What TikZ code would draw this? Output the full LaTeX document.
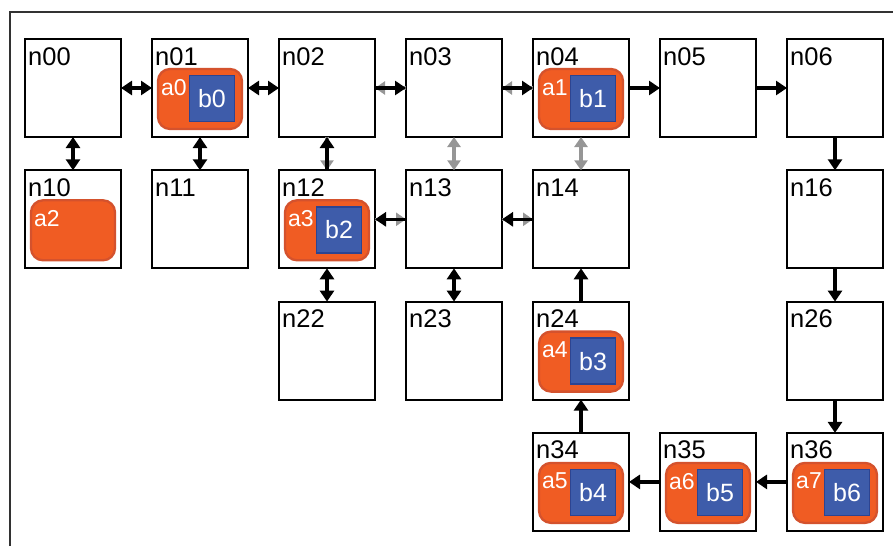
\documentclass[tikz,border=0pt]{standalone}
\usepackage{fontspec}
\setmainfont{Liberation Sans}
\usetikzlibrary{arrows.meta}
\definecolor{org}{RGB}{240,92,35}
\definecolor{orgd}{RGB}{212,82,45}
\definecolor{blu}{RGB}{62,92,170}
\definecolor{blud}{RGB}{45,68,145}
\definecolor{gry}{RGB}{150,150,150}
\definecolor{frm}{RGB}{50,50,50}
\newcommand\mkcell[4]{%
  \node[cell] (#1) at (#2,#3) {};
  \node[clabel] (#1l) at ([shift={(3,8)}]#1.north west) {#4};
}
\newcommand\mkagent[3]{%
  \node[agent] (#2) at ([shift={(48,60)}]#1.north west) {};
  \node[alab] (#2l) at ([shift={(9,40)}]#1.north west) {#3};
}
\newcommand\mkbox[3]{%
  \node[bbox] (#2) at ([shift={(60,59.5)}]#1.north west) {#3};
}
\begin{document}
\begin{tikzpicture}[x=1pt,y=-1pt,
  cell/.style={draw=black,line width=1.8pt,fill=white,minimum width=96pt,minimum height=98pt,inner sep=0pt,outer sep=0pt},
  clabel/.style={anchor=north west,inner sep=0pt,font=\fontsize{25.5}{25.5}\selectfont},
  agent/.style={fill=org,draw=orgd,line width=2.3pt,rounded corners=12pt,minimum width=84pt,minimum height=60pt,inner sep=0pt},
  alab/.style={anchor=north west,inner sep=0pt,text=white,font=\fontsize{23}{23}\selectfont},
  bbox/.style={fill=blu,draw=blud,line width=1.5pt,minimum width=45pt,minimum height=46pt,inner sep=0pt,text=white,font=\fontsize{25}{25}\selectfont},
  blk/.style={line width=3.6pt,draw=black},
  one/.style={blk,-{Triangle[width=14pt,length=11pt]}},
  two/.style={blk,{Triangle[width=14pt,length=11pt]}-{Triangle[width=14pt,length=11pt]}},
  gone/.style={line width=3.2pt,draw=gry,-{Triangle[width=13pt,length=10pt]}},
  gtwo/.style={line width=3.2pt,draw=gry,{Triangle[width=13pt,length=10pt]}-{Triangle[width=13pt,length=10pt]}},
  frame/.style={line width=2.5pt,draw=frm}
]
\useasboundingbox (0,0) rectangle (893,546);
\coordinate (f1) at (10,546);
\coordinate (f2) at (10,12);
\coordinate (f3) at (893,12);
\draw[frame] (f1) -- (f2) -- (f3);

% row 0
\mkcell{n00}{73}{88}{n00}
\mkcell{n01}{200}{88}{n01}
\mkcell{n02}{327}{88}{n02}
\mkcell{n03}{454}{88}{n03}
\mkcell{n04}{581}{88}{n04}
\mkcell{n05}{708}{88}{n05}
\mkcell{n06}{835}{88}{n06}
% row 1
\mkcell{n10}{73}{219.3}{n10}
\mkcell{n11}{200}{219.3}{n11}
\mkcell{n12}{327}{219.3}{n12}
\mkcell{n13}{454}{219.3}{n13}
\mkcell{n14}{581}{219.3}{n14}
\mkcell{n16}{835}{219.3}{n16}
% row 2
\mkcell{n22}{327}{350.6}{n22}
\mkcell{n23}{454}{350.6}{n23}
\mkcell{n24}{581}{350.6}{n24}
\mkcell{n26}{835}{350.6}{n26}
% row 3
\mkcell{n34}{581}{481.9}{n34}
\mkcell{n35}{708}{481.9}{n35}
\mkcell{n36}{835}{481.9}{n36}

% agents
\mkagent{n01}{a0}{a0}\mkbox{n01}{b0}{b0}
\mkagent{n04}{a1}{a1}\mkbox{n04}{b1}{b1}
\mkagent{n10}{a2}{a2}
\mkagent{n12}{a3}{a3}\mkbox{n12}{b2}{b2}
\mkagent{n24}{a4}{a4}\mkbox{n24}{b3}{b3}
\mkagent{n34}{a5}{a5}\mkbox{n34}{b4}{b4}
\mkagent{n35}{a6}{a6}\mkbox{n35}{b5}{b5}
\mkagent{n36}{a7}{a7}\mkbox{n36}{b6}{b6}

% gray connectors (underneath)
\draw[gone] (n03.west) -- (n02.east);
\draw[gone] (n04.west) -- (n03.east);
\draw[gone] (n02.south) -- (n12.north);
\draw[gone] (n12.east) -- (n13.west);
\draw[gone] (n13.east) -- (n14.west);
\draw[gtwo] (n03.south) -- (n13.north);
\draw[gtwo] (n04.south) -- (n14.north);

% black connectors
\draw[two] (n00.east) -- (n01.west);
\draw[two] (n01.east) -- (n02.west);
\draw[two] (n00.south) -- (n10.north);
\draw[two] (n01.south) -- (n11.north);
\draw[two] (n12.south) -- (n22.north);
\draw[two] (n13.south) -- (n23.north);
\draw[one] (n02.east) -- (n03.west);
\draw[one] (n03.east) -- (n04.west);
\draw[one] (n04.east) -- (n05.west);
\draw[one] (n05.east) -- (n06.west);
\draw[one] (n06.south) -- (n16.north);
\draw[one] (n16.south) -- (n26.north);
\draw[one] (n26.south) -- (n36.north);
\draw[one] (n36.west) -- (n35.east);
\draw[one] (n35.west) -- (n34.east);
\draw[one] (n34.north) -- (n24.south);
\draw[one] (n24.north) -- (n14.south);
\draw[one] (n12.north) -- (n02.south);
\draw[one] (n13.west) -- (n12.east);
\draw[one] (n14.west) -- (n13.east);
\end{tikzpicture}
\end{document}
